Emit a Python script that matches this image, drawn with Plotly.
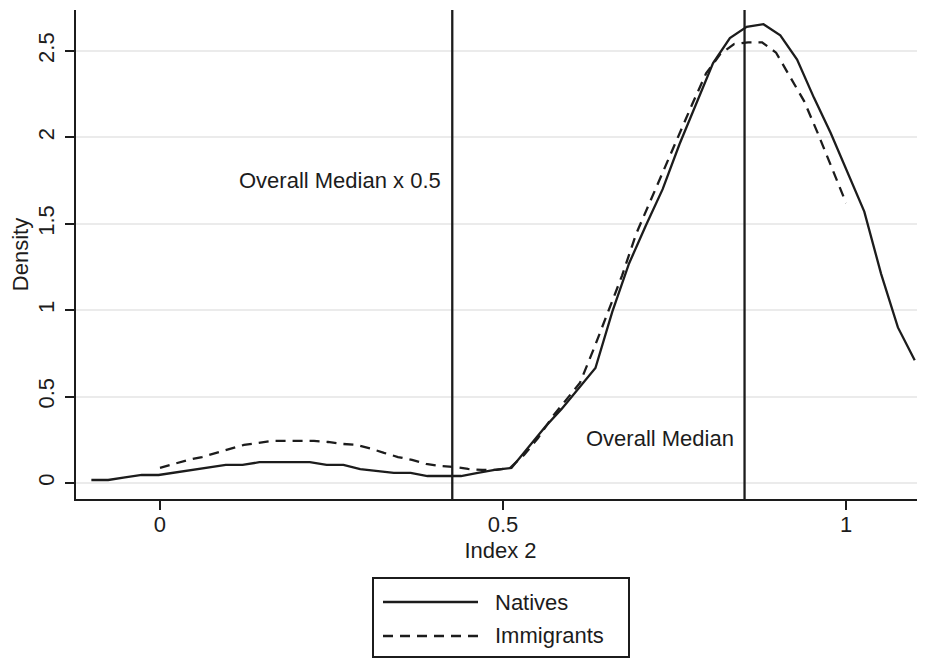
import plotly.graph_objects as go

# ---------------- data ----------------
natives_x_min, natives_x_max = -0.1, 1.1
natives_density = [
    0.017, 0.017, 0.032, 0.046, 0.046, 0.060, 0.075, 0.090, 0.104, 0.104,
    0.120, 0.120, 0.120, 0.120, 0.104, 0.104, 0.080, 0.070, 0.058, 0.058,
    0.040, 0.040, 0.040, 0.058, 0.075, 0.087, 0.208, 0.324, 0.430, 0.545,
    0.665, 0.990, 1.270, 1.490, 1.700, 1.960, 2.200, 2.430, 2.575, 2.640,
    2.655, 2.590, 2.450, 2.230, 2.025, 1.800, 1.570, 1.210, 0.900, 0.710,
]
natives_x = [natives_x_min + i * (natives_x_max - natives_x_min) / (len(natives_density) - 1)
             for i in range(len(natives_density))]

immigrants_x_min, immigrants_x_max = 0.0, 1.0
immigrants_density = [
    0.087, 0.110, 0.133, 0.150, 0.174, 0.197, 0.220, 0.231, 0.243, 0.243,
    0.243, 0.243, 0.237, 0.226, 0.220, 0.200, 0.174, 0.150, 0.133, 0.110,
    0.098, 0.093, 0.081, 0.075, 0.075, 0.087, 0.162, 0.260, 0.380, 0.480,
    0.580, 0.780, 0.990, 1.200, 1.440, 1.630, 1.820, 2.000, 2.190, 2.370,
    2.480, 2.540, 2.550, 2.550, 2.490, 2.350, 2.210, 2.020, 1.820, 1.620,
]
immigrants_x = [immigrants_x_min + i * (immigrants_x_max - immigrants_x_min) / (len(immigrants_density) - 1)
                for i in range(len(immigrants_density))]

overall_median = 0.852
half_median = 0.426

series_names = ["Natives", "Immigrants"]
x_ticks = [0, 0.5, 1]
x_tick_labels = ["0", "0.5", "1"]
y_ticks = [0, 0.5, 1, 1.5, 2, 2.5]
y_tick_labels = ["0", "0.5", "1", "1.5", "2", "2.5"]

# ---------------- style / layout ----------------
OFF = 8                      # page body margin of the html page
W, H = 925 - OFF, 660 - OFF
ML, MR, MT, MB = 68, 0, 2, 161
PW, PH = W - ML - MR, H - MT - MB
INK = "#1c1c1c"
FONT = "Liberation Sans, Arial, Helvetica, sans-serif"
FS = 22
DASH = "10px,7px"


def px_x(p):
    return (p - OFF - ML) / PW


def px_y(p):
    return (H + OFF - MB - p) / PH


fig = go.Figure()
fig.add_trace(go.Scatter(x=natives_x, y=natives_density, mode="lines", name=series_names[0],
                         line=dict(color=INK, width=2.3), showlegend=False))
fig.add_trace(go.Scatter(x=immigrants_x, y=immigrants_density, mode="lines", name=series_names[1],
                         line=dict(color=INK, width=2.3, dash=DASH), showlegend=False))

shapes = []
for xv in (half_median, overall_median):
    shapes.append(dict(type="line", xref="x", yref="paper", x0=xv, x1=xv, y0=0, y1=1,
                       line=dict(color=INK, width=2.3)))

# legend (custom, to reproduce long line samples)
shapes.append(dict(type="rect", xref="paper", yref="paper",
                   x0=px_x(373), x1=px_x(629), y0=px_y(578), y1=px_y(657),
                   line=dict(color=INK, width=2), fillcolor="white"))
shapes.append(dict(type="line", xref="paper", yref="paper",
                   x0=px_x(383), x1=px_x(478), y0=px_y(602), y1=px_y(602),
                   line=dict(color=INK, width=2.3)))
shapes.append(dict(type="line", xref="paper", yref="paper",
                   x0=px_x(383), x1=px_x(478), y0=px_y(636), y1=px_y(636),
                   line=dict(color=INK, width=2.3, dash=DASH)))

annotations = [
    dict(x=half_median, y=1.75, xref="x", yref="y", text="Overall Median x 0.5",
         xanchor="right", yanchor="middle", xshift=-9, showarrow=False,
         font=dict(size=FS, color=INK, family=FONT)),
    dict(x=overall_median, y=0.26, xref="x", yref="y", text="Overall Median",
         xanchor="right", yanchor="middle", xshift=-9, showarrow=False,
         font=dict(size=FS, color=INK, family=FONT)),
    dict(x=px_x(493), y=px_y(602), xref="paper", yref="paper", text=series_names[0],
         xanchor="left", yanchor="middle", showarrow=False,
         font=dict(size=FS, color=INK, family=FONT)),
    dict(x=px_x(493), y=px_y(636), xref="paper", yref="paper", text=series_names[1],
         xanchor="left", yanchor="middle", showarrow=False,
         font=dict(size=FS, color=INK, family=FONT)),
]

fig.update_layout(
    width=W, height=H,
    margin=dict(l=ML, r=MR, t=MT, b=MB),
    paper_bgcolor="white", plot_bgcolor="white",
    font=dict(family=FONT, size=FS, color=INK),
    showlegend=False,
    shapes=shapes,
    annotations=annotations,
    xaxis=dict(range=[-0.1224, 1.115], tickvals=x_ticks, ticktext=x_tick_labels,
               showgrid=False, zeroline=False, showline=True, linecolor=INK, linewidth=2,
               ticks="outside", ticklen=9, tickwidth=2, tickcolor=INK,
               ticklabelstandoff=-4,
               title=dict(text="Index 2", standoff=6, font=dict(size=FS)),
               tickfont=dict(size=FS)),
    yaxis=dict(range=[-0.093, 2.737], tickvals=y_ticks, ticktext=y_tick_labels,
               showgrid=True, gridcolor="#ebebeb", gridwidth=2, zeroline=False,
               showline=True, linecolor=INK, linewidth=2,
               ticks="outside", ticklen=9, tickwidth=2, tickcolor=INK, tickangle=-90,
               ticklabelstandoff=2,
               title=dict(text="Density", standoff=11, font=dict(size=FS)),
               tickfont=dict(size=FS)),
)

fig.write_html("out.html")
